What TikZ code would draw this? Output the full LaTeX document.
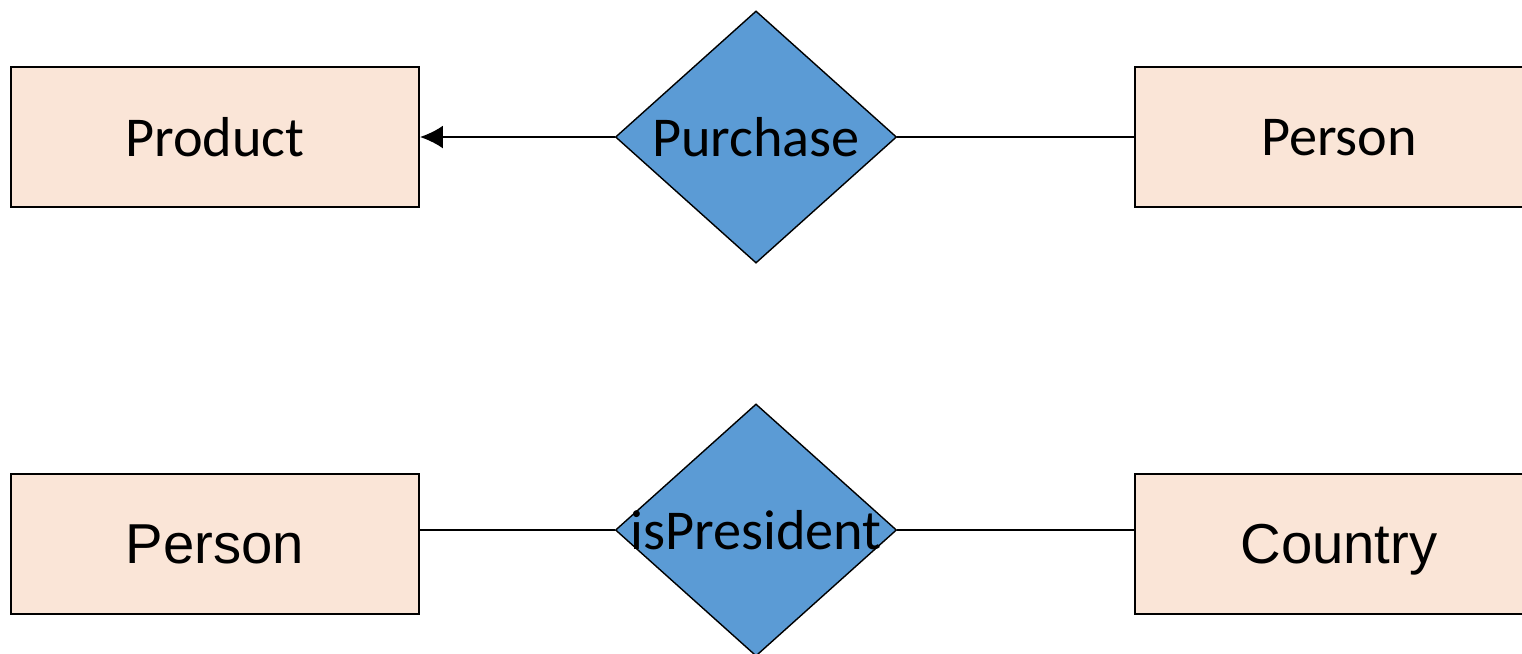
\documentclass[tikz,border=0pt]{standalone}
\usepackage{fontspec}
\usepackage{tikz}
\usetikzlibrary{shapes.geometric,arrows.meta}
\usepackage{xcolor}
\newfontfamily\calibrifont{Carlito}
\newfontfamily\arialfont{Liberation Sans}
\definecolor{entitypeach}{RGB}{250,229,215}
\definecolor{relblue}{RGB}{91,155,213}

\begin{document}
\begin{tikzpicture}[x=0.01cm,y=-0.01cm,>={Latex[length=6.5pt,width=6.5pt]},
    entity/.style={draw,line width=0.5pt,fill=entitypeach,minimum width=4.08cm,minimum height=1.40cm,inner sep=0pt,text depth=0pt,font=\fontsize{16}{19}\selectfont},
    relation/.style={diamond,draw,line width=0.4pt,fill=relblue,minimum width=2.81cm,minimum height=2.52cm,inner sep=0pt,font=\calibrifont\fontsize{16}{19}\selectfont},
    link/.style={line width=0.6pt}]
    \useasboundingbox (0,0) rectangle (1522,653);

    % Purchase relationship
    \node[entity,font=\calibrifont\fontsize{16}{19}\selectfont] (product) at (215,137) {Product};
    \node[relation] (purchase) at (756,137) {\makebox[0pt]{Purchase}};
    \node[entity,font=\calibrifont\fontsize{16}{19}\selectfont] (buyer) at (1339,137) {Person};
    \draw[link,->] (purchase.west)--(product.east);
    \draw[link] (purchase.east)--(buyer.west);

    % isPresident relationship
    \node[entity,font=\arialfont\fontsize{16}{19}\selectfont] (president) at (215,544) {Person};
    \node[relation] (ispresident) at (756,530) {\makebox[0pt]{isPresident}};
    \node[entity,font=\arialfont\fontsize{16}{19}\selectfont] (country) at (1339,544) {Country};
    \draw[link] (ispresident.west)--(president.east|-ispresident.west);
    \draw[link] (ispresident.east)--(country.west|-ispresident.east);
\end{tikzpicture}
\end{document}
